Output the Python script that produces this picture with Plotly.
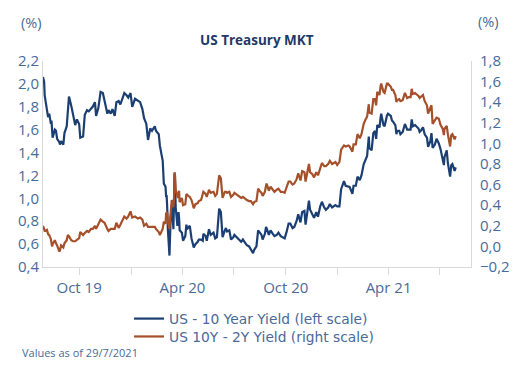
import plotly.graph_objects as go

# ---- data ----
dates = (
    ["2019-07-29", "2019-07-31"]
    + ["2019-08-%s" % d for d in ["01", "02", "05", "07", "09", "12", "13", "14", "15", "19", "21", "23", "27", "28", "30"]]
    + ["2019-09-%s" % d for d in ["03", "05", "09", "11", "13", "17", "20", "24", "27"]]
    + ["2019-10-%s" % d for d in ["01", "03", "08", "11", "15", "18", "22", "25", "29", "31"]]
    + ["2019-11-%s" % d for d in ["04", "07", "08", "12", "15", "20", "22", "26", "29"]]
    + ["2019-12-%s" % d for d in ["03", "06", "10", "13", "17", "20", "24", "27", "31"]]
    + ["2020-01-%s" % d for d in ["03", "08", "13", "17", "21", "24", "28", "31"]]
    + ["2020-02-%s" % d for d in ["04", "07", "12", "14", "19", "21", "24", "26", "28"]]
    + ["2020-03-%s" % d for d in ["02", "03", "04", "05", "06", "09", "10", "11", "12", "13", "16", "17", "18", "19", "20", "23", "24", "25", "26", "27", "31"]]
    + ["2020-04-%s" % d for d in ["02", "06", "08", "09", "14", "17", "21", "24", "28", "30"]]
    + ["2020-05-%s" % d for d in ["04", "07", "08", "12", "14", "18", "21", "26", "29"]]
    + ["2020-06-%s" % d for d in ["01", "03", "05", "08", "11", "15", "17", "19", "23", "26", "30"]]
    + ["2020-07-%s" % d for d in ["02", "07", "10", "14", "17", "21", "24", "28", "31"]]
    + ["2020-08-%s" % d for d in ["04", "06", "10", "13", "17", "19", "21", "25", "27", "28"]]
    + ["2020-09-%s" % d for d in ["01", "04", "08", "11", "15", "18", "22", "25", "29"]]
    + ["2020-10-%s" % d for d in ["02", "06", "09", "13", "16", "20", "23", "27", "30"]]
    + ["2020-11-%s" % d for d in ["03", "05", "09", "11", "13", "17", "20", "24", "27"]]
    + ["2020-12-%s" % d for d in ["01", "04", "08", "11", "15", "18", "22", "28", "31"]]
    + ["2021-01-%s" % d for d in ["04", "07", "12", "15", "20", "22", "27", "29"]]
    + ["2021-02-%s" % d for d in ["02", "05", "09", "12", "16", "19", "22", "25", "26"]]
    + ["2021-03-%s" % d for d in ["02", "05", "08", "10", "12", "16", "18", "19", "23", "25", "29", "31"]]
    + ["2021-04-%s" % d for d in ["05", "07", "09", "13", "15", "16", "20", "22", "26", "28", "30"]]
    + ["2021-05-%s" % d for d in ["04", "07", "10", "12", "14", "18", "20", "24", "26", "28"]]
    + ["2021-06-%s" % d for d in ["01", "04", "08", "10", "14", "16", "18", "22", "25", "29"]]
    + ["2021-07-%s" % d for d in ["02", "06", "08", "09", "13", "15", "19", "21", "23", "27", "29"]]
)

us10y = (
    [2.06, 2.02]
    + [1.90, 1.86, 1.75, 1.71, 1.74, 1.65, 1.68, 1.59, 1.53, 1.60, 1.59, 1.52, 1.49, 1.47, 1.50]
    + [1.47, 1.57, 1.63, 1.78, 1.89, 1.81, 1.74, 1.64, 1.69]
    + [1.65, 1.53, 1.54, 1.73, 1.77, 1.76, 1.78, 1.80, 1.84, 1.72]
    + [1.79, 1.92, 1.93, 1.92, 1.84, 1.74, 1.77, 1.74, 1.78]
    + [1.72, 1.84, 1.85, 1.82, 1.89, 1.92, 1.90, 1.88, 1.92]
    + [1.80, 1.87, 1.85, 1.84, 1.78, 1.70, 1.65, 1.51]
    + [1.61, 1.59, 1.63, 1.59, 1.56, 1.46, 1.38, 1.33, 1.13]
    + [1.10, 1.02, 1.02, 0.92, 0.74, 0.50, 0.76, 0.82, 0.88, 0.94, 0.73, 1.02, 1.22, 1.12, 0.92, 0.76, 0.84, 0.88, 0.83, 0.72, 0.70]
    + [0.63, 0.67, 0.77, 0.73, 0.76, 0.65, 0.57, 0.60, 0.62, 0.64]
    + [0.64, 0.63, 0.69, 0.67, 0.63, 0.73, 0.68, 0.70, 0.65]
    + [0.66, 0.77, 0.91, 0.88, 0.66, 0.72, 0.74, 0.71, 0.72, 0.64, 0.66]
    + [0.68, 0.65, 0.64, 0.62, 0.64, 0.61, 0.59, 0.58, 0.55]
    + [0.52, 0.55, 0.58, 0.72, 0.69, 0.68, 0.64, 0.69, 0.75, 0.74]
    + [0.68, 0.72, 0.69, 0.67, 0.68, 0.70, 0.67, 0.66, 0.65]
    + [0.70, 0.78, 0.78, 0.74, 0.75, 0.80, 0.86, 0.79, 0.88]
    + [0.89, 0.77, 0.93, 0.98, 0.90, 0.86, 0.83, 0.88, 0.84]
    + [0.93, 0.97, 0.92, 0.90, 0.92, 0.95, 0.92, 0.94, 0.93]
    + [0.93, 1.08, 1.15, 1.11, 1.10, 1.10, 1.04, 1.11]
    + [1.11, 1.19, 1.16, 1.20, 1.30, 1.34, 1.37, 1.54, 1.44]
    + [1.42, 1.57, 1.59, 1.52, 1.64, 1.62, 1.71, 1.74, 1.64, 1.63, 1.72, 1.74]
    + [1.72, 1.68, 1.67, 1.64, 1.56, 1.59, 1.59, 1.56, 1.58, 1.63, 1.65]
    + [1.60, 1.60, 1.60, 1.69, 1.63, 1.64, 1.63, 1.61, 1.58, 1.59]
    + [1.62, 1.56, 1.53, 1.45, 1.50, 1.57, 1.44, 1.47, 1.52, 1.48]
    + [1.43, 1.35, 1.29, 1.36, 1.42, 1.31, 1.19, 1.29, 1.30, 1.24, 1.27]
)

spread_10y2y = (
    [0.20, 0.15]
    + [0.15, 0.15, 0.16, 0.12, 0.11, 0.07, 0.04, 0.00, 0.02, 0.06, 0.03, 0.01, -0.05, -0.04, 0.01]
    + [-0.01, 0.03, 0.06, 0.11, 0.10, 0.06, 0.05, 0.05, 0.06]
    + [0.08, 0.14, 0.11, 0.13, 0.15, 0.14, 0.17, 0.17, 0.20, 0.17]
    + [0.21, 0.24, 0.26, 0.24, 0.23, 0.17, 0.15, 0.17, 0.17]
    + [0.17, 0.23, 0.18, 0.21, 0.26, 0.29, 0.27, 0.29, 0.34]
    + [0.28, 0.29, 0.27, 0.28, 0.26, 0.20, 0.22, 0.19]
    + [0.19, 0.19, 0.19, 0.17, 0.14, 0.11, 0.14, 0.17, 0.24]
    + [0.22, 0.32, 0.33, 0.33, 0.25, 0.17, 0.25, 0.32, 0.38, 0.45, 0.38, 0.45, 0.72, 0.68, 0.55, 0.49, 0.47, 0.51, 0.54, 0.43, 0.47]
    + [0.40, 0.41, 0.51, 0.50, 0.48, 0.45, 0.37, 0.41, 0.42, 0.44]
    + [0.45, 0.52, 0.53, 0.51, 0.48, 0.55, 0.52, 0.53, 0.49]
    + [0.51, 0.59, 0.69, 0.66, 0.47, 0.53, 0.53, 0.52, 0.53, 0.48, 0.50]
    + [0.52, 0.50, 0.49, 0.47, 0.48, 0.46, 0.45, 0.44, 0.44]
    + [0.41, 0.43, 0.44, 0.56, 0.53, 0.52, 0.49, 0.53, 0.59, 0.61]
    + [0.54, 0.58, 0.55, 0.53, 0.55, 0.56, 0.53, 0.53, 0.52]
    + [0.57, 0.63, 0.63, 0.60, 0.61, 0.65, 0.71, 0.64, 0.73]
    + [0.72, 0.63, 0.75, 0.80, 0.72, 0.70, 0.67, 0.72, 0.69]
    + [0.77, 0.81, 0.78, 0.78, 0.80, 0.83, 0.80, 0.82, 0.79]
    + [0.82, 0.94, 0.98, 0.97, 0.98, 0.97, 0.92, 0.99]
    + [0.99, 1.09, 1.05, 1.09, 1.19, 1.23, 1.26, 1.38, 1.30]
    + [1.29, 1.43, 1.43, 1.37, 1.50, 1.47, 1.56, 1.58, 1.50, 1.49, 1.58, 1.58]
    + [1.55, 1.52, 1.52, 1.47, 1.40, 1.42, 1.43, 1.41, 1.42, 1.47, 1.49]
    + [1.44, 1.45, 1.45, 1.53, 1.48, 1.49, 1.48, 1.46, 1.44, 1.45]
    + [1.47, 1.41, 1.37, 1.29, 1.34, 1.37, 1.19, 1.23, 1.25, 1.24]
    + [1.18, 1.14, 1.08, 1.14, 1.17, 1.09, 0.97, 1.08, 1.09, 1.04, 1.07]
)

assert len(dates) == len(us10y) == len(spread_10y2y)

x_tickvals = ["2019-10-01", "2020-01-01", "2020-04-01", "2020-07-01",
              "2020-10-01", "2021-01-01", "2021-04-01", "2021-07-01"]
x_ticktext = ["Oct 19", "", "Apr 20", "", "Oct 20", "", "Apr 21", ""]
left_ticks = [0.4, 0.6, 0.8, 1.0, 1.2, 1.4, 1.6, 1.8, 2.0, 2.2]
right_ticks = [-0.2, 0.0, 0.2, 0.4, 0.6, 0.8, 1.0, 1.2, 1.4, 1.6, 1.8]

BLUE = "#1b3f72"
BROWN = "#a5502a"
TXT = "#4a6a98"
AXIS = "#d9d9d9"
FONT = "'Open Sans', Lato, sans-serif"
LEGEND_FONT = "'DejaVu Sans', 'Open Sans', sans-serif"

# The page body adds an 8px offset, so the figure is 8px smaller than the window.
fig = go.Figure()
fig.add_trace(go.Scatter(x=dates, y=us10y, mode="lines", name="US - 10 Year Yield (left scale)",
                         line=dict(color=BLUE, width=2.2), legend="legend"))
fig.add_trace(go.Scatter(x=dates, y=spread_10y2y, mode="lines", name="US 10Y - 2Y Yield (right scale)",
                         line=dict(color=BROWN, width=2.2), yaxis="y2", legend="legend2"))

legend_common = dict(orientation="v", xref="container", yref="container",
                     x=0.231, xanchor="left", yanchor="middle",
                     font=dict(size=13.8, color=TXT, family=LEGEND_FONT),
                     bgcolor="rgba(0,0,0,0)", itemwidth=30)

fig.update_layout(
    width=524, height=365,
    margin=dict(l=35, r=61, t=53, b=106, autoexpand=False),
    paper_bgcolor="white", plot_bgcolor="white",
    separators=",.",
    font=dict(family=FONT, size=15, color=TXT),
    showlegend=True,
    legend=dict(legend_common, y=0.149),
    legend2=dict(legend_common, y=0.100),
    xaxis=dict(type="date", range=["2019-07-29", "2021-08-25"],
               tickvals=x_tickvals, ticktext=x_ticktext,
               ticks="outside", ticklen=7, tickcolor=AXIS, tickwidth=1,
               showline=True, linecolor=AXIS, linewidth=1,
               showgrid=False, zeroline=False,
               tickfont=dict(size=15, color=TXT)),
    yaxis=dict(range=[0.4, 2.2], tickvals=left_ticks, tickformat=".1f",
               showline=True, linecolor=AXIS, linewidth=1,
               showgrid=False, zeroline=False, ticks="",
               tickfont=dict(size=15, color=TXT)),
    yaxis2=dict(range=[-0.2, 1.8], tickvals=right_ticks, tickformat=".1f",
                overlaying="y", side="right",
                showline=True, linecolor=AXIS, linewidth=1,
                showgrid=False, zeroline=False, ticks="",
                ticklabelstandoff=5,
                tickfont=dict(size=15, color=TXT)),
    annotations=[
        dict(text="<b>US Treasury MKT</b>", xref="paper", yref="paper", x=0.5, y=1.102,
             xanchor="center", yanchor="middle", showarrow=False,
             font=dict(size=13.5, color="#1f3a68", family=FONT)),
        dict(text="(%)", xref="paper", yref="paper", x=-0.027, y=1.189,
             xanchor="center", yanchor="middle", showarrow=False,
             font=dict(size=14.5, color=TXT, family=FONT)),
        dict(text="(%)", xref="paper", yref="paper", x=1.04, y=1.194,
             xanchor="center", yanchor="middle", showarrow=False,
             font=dict(size=14.5, color=TXT, family=FONT)),
        dict(text="Values as of 29/7/2021", xref="paper", yref="paper", x=-0.054, y=-0.413,
             xanchor="left", yanchor="middle", showarrow=False,
             font=dict(size=11, color=TXT, family=FONT)),
    ],
)

fig.write_html("out.html")
